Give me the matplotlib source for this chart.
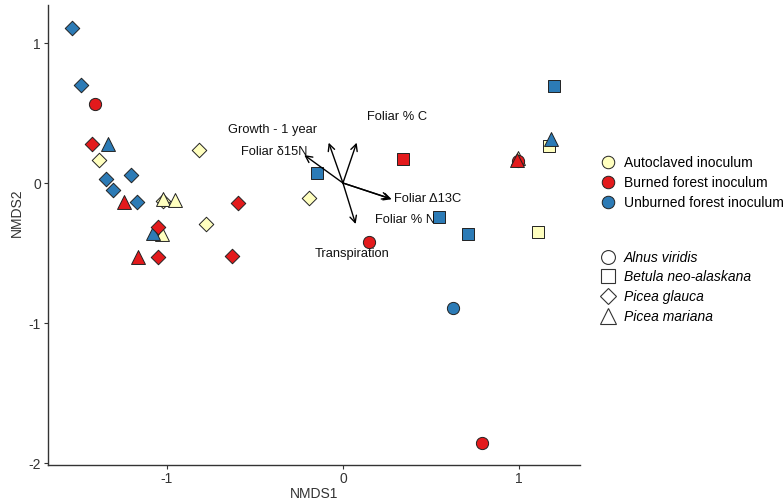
import matplotlib
matplotlib.use("Agg")
import matplotlib.pyplot as plt
from matplotlib.lines import Line2D

plt.rcParams['font.family'] = ['Liberation Sans', 'DejaVu Sans']
plt.rcParams['axes.unicode_minus'] = False

# --- data -------------------------------------------------------------
inocula = ["Autoclaved inoculum", "Burned forest inoculum", "Unburned forest inoculum"]
inoc_colors = ["#FFFFBF", "#E31A1C", "#2C7BB6"]
species = ["Alnus viridis", "Betula neo-alaskana", "Picea glauca", "Picea mariana"]
species_markers = ["o", "s", "D", "^"]

# sample scores, one list per inoculum and species (NMDS1, NMDS2)
auto_glauca_x = [-1.385, -0.820, -0.778, -0.195, -1.020]
auto_glauca_y = [0.162, 0.236, -0.293, -0.107, -0.129]
auto_mariana_x = [-1.021, -0.955, -1.026, 0.994]
auto_mariana_y = [-0.116, -0.121, -0.364, 0.179]
auto_betula_x = [1.172, 1.110]
auto_betula_y = [0.264, -0.350]

unb_glauca_x = [-1.540, -1.490, -1.348, -1.206, -1.309, -1.168]
unb_glauca_y = [1.109, 0.700, 0.026, 0.057, -0.050, -0.136]
unb_mariana_x = [-1.337, -1.077, 1.180]
unb_mariana_y = [0.276, -0.359, 0.314]
unb_betula_x = [-0.146, 1.199, 0.545, 0.709]
unb_betula_y = [0.074, 0.695, -0.241, -0.362]
unb_alnus_x = [0.623]
unb_alnus_y = [-0.891]

burn_alnus_x = [-1.407, 0.146, 0.790, 0.994]
burn_alnus_y = [0.562, -0.419, -1.859, 0.157]
burn_glauca_x = [-1.424, -0.598, -1.051, -1.051, -0.631]
burn_glauca_y = [0.276, -0.141, -0.311, -0.531, -0.518]
burn_mariana_x = [-1.244, -1.165, 0.989]
burn_mariana_y = [-0.134, -0.526, 0.164]
burn_betula_x = [0.343]
burn_betula_y = [0.169]

# fitted vectors
vec_names = ["Growth - 1 year", "Foliar δ15N", "Foliar % C", "Foliar Δ13C", "Foliar % N", "Transpiration"]
vec_x = [-0.081, -0.220, 0.078, 0.277, 0.268, 0.072]
vec_y = [0.288, 0.200, 0.288, -0.116, -0.110, -0.293]
lab_x = [-0.398, -0.392, 0.305, 0.480, 0.352, 0.054]
lab_y = [0.379, 0.224, 0.469, -0.114, -0.264, -0.507]

# --- plot -------------------------------------------------------------
fig = plt.figure(figsize=(7.84, 5.01), dpi=100)
ax = fig.add_axes([0.0612, 0.0719, 0.6786, 0.918])

sizes = {"o": 8.8, "s": 8.0, "D": 7.4, "^": 10.0}

groups = [
    (0, "D", auto_glauca_x, auto_glauca_y),
    (0, "^", auto_mariana_x, auto_mariana_y),
    (0, "s", auto_betula_x, auto_betula_y),
    (2, "D", unb_glauca_x, unb_glauca_y),
    (2, "^", unb_mariana_x, unb_mariana_y),
    (2, "s", unb_betula_x, unb_betula_y),
    (2, "o", unb_alnus_x, unb_alnus_y),
    (1, "o", burn_alnus_x, burn_alnus_y),
    (1, "D", burn_glauca_x, burn_glauca_y),
    (1, "^", burn_mariana_x, burn_mariana_y),
    (1, "s", burn_betula_x, burn_betula_y),
]
for ci, m, xs, ys in groups:
    ax.scatter(xs, ys, marker=m, s=sizes[m] ** 2, c=inoc_colors[ci],
               edgecolors="#222222", linewidths=0.7, zorder=3)

for name, vx, vy, tx, ty in zip(vec_names, vec_x, vec_y, lab_x, lab_y):
    ax.annotate("", xy=(vx, vy), xytext=(0, 0),
                arrowprops=dict(arrowstyle="->", color="black", lw=1.0,
                                shrinkA=0, shrinkB=0, mutation_scale=12),
                zorder=4)
    ax.text(tx, ty, name, ha="center", va="center", fontsize=9.3, color="#111111", zorder=5)

ax.set_xlim(-1.676, 1.347)
ax.set_ylim(-2.014, 1.271)
ax.set_xticks([-1, 0, 1])
ax.set_yticks([-2, -1, 0, 1])
for s in ["top", "right"]:
    ax.spines[s].set_visible(False)
for s in ["left", "bottom"]:
    ax.spines[s].set_color("#333333")
    ax.spines[s].set_linewidth(1.0)
ax.tick_params(length=3, pad=2, color="#333333", labelsize=10, labelcolor="#333333")
ax.set_xlabel("NMDS1", fontsize=10, color="#333333", labelpad=1)
ax.set_ylabel("NMDS2", fontsize=10, color="#333333")
ax.yaxis.set_label_coords(-0.045, 0.548)

h1 = [Line2D([], [], marker="o", ls="", ms=9, mfc=c, mec="#222222", mew=0.7)
      for c in inoc_colors]
leg1 = fig.legend(h1, inocula, loc="upper left", bbox_to_anchor=(0.765, 0.688),
                  frameon=False, borderpad=0, borderaxespad=0,
                  handletextpad=0.55, labelspacing=0.42, handlelength=1.2,
                  prop={"size": 10})
leg_sizes = {"o": 10, "s": 9.5, "D": 8.5, "^": 11.5}
h2 = [Line2D([], [], marker=m, ls="", ms=leg_sizes[m], mfc="white", mec="#333333", mew=0.8)
      for m in species_markers]
leg2 = fig.legend(h2, species, loc="upper left", bbox_to_anchor=(0.765, 0.500),
                  frameon=False, borderpad=0, borderaxespad=0,
                  handletextpad=0.55, labelspacing=0.42, handlelength=1.2,
                  prop={"style": "italic", "size": 10})

fig.savefig("out.png", dpi=100)
